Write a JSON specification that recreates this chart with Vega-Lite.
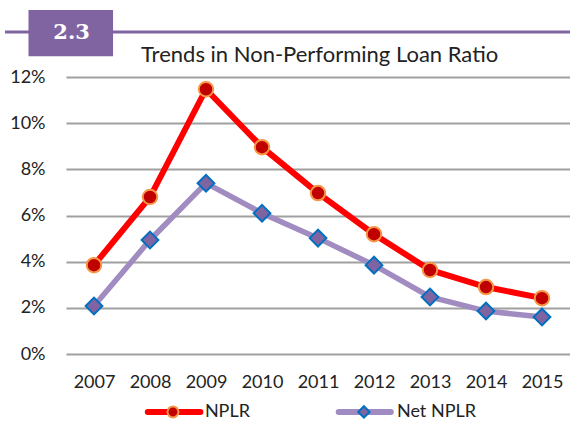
{
  "$schema": "https://vega.github.io/schema/vega-lite/v6.json",
  "width": 504,
  "height": 277,
  "autosize": {"type": "none"},
  "padding": {"left": 66, "top": 77, "right": 0, "bottom": 67},
  "background": "white",
  "config": {
    "view": {"stroke": null},
    "font": "Lato",
    "axis": {"labelFont": "Lato", "labelFontSize": 18, "labelColor": "#222222"}
  },
  "datasets": {
    "ratios": [
      {"year": 2007, "series": "NPLR", "value": 0.0385},
      {"year": 2008, "series": "NPLR", "value": 0.068},
      {"year": 2009, "series": "NPLR", "value": 0.1147},
      {"year": 2010, "series": "NPLR", "value": 0.0896},
      {"year": 2011, "series": "NPLR", "value": 0.0697},
      {"year": 2012, "series": "NPLR", "value": 0.0519},
      {"year": 2013, "series": "NPLR", "value": 0.0364},
      {"year": 2014, "series": "NPLR", "value": 0.029},
      {"year": 2015, "series": "NPLR", "value": 0.0242},
      {"year": 2007, "series": "Net NPLR", "value": 0.0208},
      {"year": 2008, "series": "Net NPLR", "value": 0.0494},
      {"year": 2009, "series": "Net NPLR", "value": 0.074},
      {"year": 2010, "series": "Net NPLR", "value": 0.061},
      {"year": 2011, "series": "Net NPLR", "value": 0.0502},
      {"year": 2012, "series": "Net NPLR", "value": 0.0385},
      {"year": 2013, "series": "Net NPLR", "value": 0.0247},
      {"year": 2014, "series": "Net NPLR", "value": 0.0186},
      {"year": 2015, "series": "Net NPLR", "value": 0.016}
    ],
    "one": [{"k": 1}],
    "header": [{"t": "2.3", "title": "Trends in Non-Performing Loan Ratio"}],
    "legend": [{"a": "NPLR", "b": "Net NPLR"}]
  },
  "layer": [
    {
      "data": {"name": "ratios"},
      "encoding": {
        "x": {
          "field": "year", "type": "quantitative",
          "scale": {"domain": [2006.5, 2015.5], "nice": false, "zero": false},
          "axis": {"values": [2007, 2008, 2009, 2010, 2011, 2012, 2013, 2014, 2015], "format": "d", "title": null, "grid": false, "domain": false, "ticks": false, "labelPadding": 19, "labelFlush": false}
        },
        "y": {
          "field": "value", "type": "quantitative",
          "scale": {"domain": [0, 0.12], "nice": false},
          "axis": {"values": [0, 0.02, 0.04, 0.06, 0.08, 0.1, 0.12], "format": ".0%", "title": null, "domain": false, "ticks": false, "labelPadding": 21, "gridColor": "#A0A0A0", "gridWidth": 2, "gridOpacity": 1}
        }
      },
      "layer": [
        {
          "transform": [{"filter": "datum.series === 'NPLR'"}],
          "mark": {"type": "line", "color": "#FF0000", "strokeWidth": 6}
        },
        {
          "transform": [{"filter": "datum.series === 'Net NPLR'"}],
          "mark": {"type": "line", "color": "#A08CC0", "strokeWidth": 5.5}
        },
        {
          "transform": [{"filter": "datum.series === 'NPLR'"}],
          "mark": {"type": "point", "shape": "circle", "filled": true, "fill": "#C00000", "stroke": "#F79646", "strokeWidth": 2, "size": 210, "opacity": 1}
        },
        {
          "transform": [{"filter": "datum.series === 'Net NPLR'"}],
          "mark": {"type": "point", "shape": "diamond", "filled": true, "fill": "#8064A2", "stroke": "#0070C0", "strokeWidth": 2, "size": 280, "opacity": 1}
        }
      ]
    },
    {
      "data": {"name": "one"},
      "mark": {"type": "rule", "color": "#8064A2", "strokeWidth": 3, "clip": false},
      "encoding": {"x": {"datum": 2005.41, "type": "quantitative"}, "x2": {"datum": 2015.5}, "y": {"datum": 0.1395, "type": "quantitative"}}
    },
    {
      "data": {"name": "one"},
      "mark": {"type": "rect", "color": "#8064A2", "clip": false},
      "encoding": {"x": {"datum": 2005.83, "type": "quantitative"}, "x2": {"datum": 2007.34}, "y": {"datum": 0.129, "type": "quantitative"}, "y2": {"datum": 0.149}}
    },
    {
      "data": {"name": "header"},
      "mark": {"type": "text", "font": "DejaVu Serif", "fontWeight": "bold", "fontSize": 21, "color": "white", "align": "center", "baseline": "middle", "clip": false},
      "encoding": {"x": {"datum": 2006.6, "type": "quantitative"}, "y": {"datum": 0.1392, "type": "quantitative"}, "text": {"field": "t"}}
    },
    {
      "data": {"name": "header"},
      "mark": {"type": "text", "font": "Lato", "fontSize": 22, "color": "#222222", "align": "left", "baseline": "alphabetic", "clip": false},
      "encoding": {"x": {"datum": 2007.84, "type": "quantitative"}, "y": {"datum": 0.1265, "type": "quantitative"}, "text": {"field": "title"}}
    },
    {
      "data": {"name": "one"},
      "mark": {"type": "rule", "color": "#FF0000", "strokeWidth": 6, "strokeCap": "round", "clip": false},
      "encoding": {"x": {"datum": 2007.96, "type": "quantitative"}, "x2": {"datum": 2008.9}, "y": {"datum": -0.0251, "type": "quantitative"}}
    },
    {
      "data": {"name": "one"},
      "mark": {"type": "point", "shape": "circle", "filled": true, "fill": "#C00000", "stroke": "#F79646", "strokeWidth": 2, "size": 120, "opacity": 1, "clip": false},
      "encoding": {"x": {"datum": 2008.41, "type": "quantitative"}, "y": {"datum": -0.0251, "type": "quantitative"}}
    },
    {
      "data": {"name": "legend"},
      "mark": {"type": "text", "font": "Lato", "fontSize": 18, "color": "#222222", "align": "left", "baseline": "middle", "clip": false},
      "encoding": {"x": {"datum": 2008.98, "type": "quantitative"}, "y": {"datum": -0.0251, "type": "quantitative"}, "text": {"field": "a"}}
    },
    {
      "data": {"name": "one"},
      "mark": {"type": "rule", "color": "#A08CC0", "strokeWidth": 6, "strokeCap": "round", "clip": false},
      "encoding": {"x": {"datum": 2011.37, "type": "quantitative"}, "x2": {"datum": 2012.3}, "y": {"datum": -0.0251, "type": "quantitative"}}
    },
    {
      "data": {"name": "one"},
      "mark": {"type": "point", "shape": "diamond", "filled": true, "fill": "#8064A2", "stroke": "#0070C0", "strokeWidth": 2, "size": 130, "opacity": 1, "clip": false},
      "encoding": {"x": {"datum": 2011.82, "type": "quantitative"}, "y": {"datum": -0.0251, "type": "quantitative"}}
    },
    {
      "data": {"name": "legend"},
      "mark": {"type": "text", "font": "Lato", "fontSize": 18, "color": "#222222", "align": "left", "baseline": "middle", "clip": false},
      "encoding": {"x": {"datum": 2012.41, "type": "quantitative"}, "y": {"datum": -0.0251, "type": "quantitative"}, "text": {"field": "b"}}
    }
  ]
}
